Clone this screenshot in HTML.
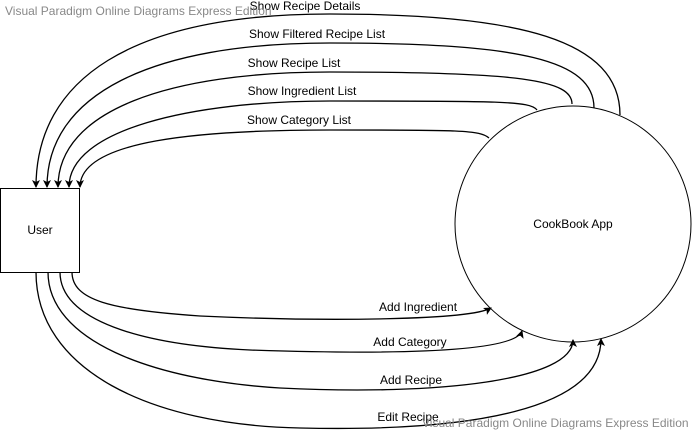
<!DOCTYPE html>
<html><head><meta charset="utf-8"><style>
html,body{margin:0;padding:0;background:#fff;}
svg{display:block;font-family:"Liberation Sans",Arial,sans-serif;}
</style></head><body>
<svg width="693" height="434" viewBox="0 0 693 434" xmlns="http://www.w3.org/2000/svg">
<defs>
<marker id="a" markerWidth="8" markerHeight="8" refX="7" refY="4" orient="auto" markerUnits="userSpaceOnUse">
<path d="M0,0 L8,4 L0,8 L2,4 Z" fill="#000"/>
</marker>
</defs>
<rect x="0.5" y="188.5" width="79" height="84" fill="#fff" stroke="#000"/>
<text x="40" y="234" font-size="12" text-anchor="middle">User</text>
<circle cx="573" cy="224" r="118" fill="#fff" stroke="#000"/>
<text x="573" y="228" font-size="12" text-anchor="middle">CookBook App</text>
<g fill="none" stroke="#000" stroke-width="1.3" marker-end="url(#a)">
<path d="M620,115 C620,40 520,14 330,14 C130,14 36,80 36,187"/>
<path d="M594,108 C594,60 520,43 330,43 C150,43 47,95 47,187"/>
<path d="M572,104 C572,80 520,72 330,72 C170,72 58,110 58,187"/>
<path d="M537,110 C530,101 500,101 330,101 C190,101 69,130 69,187"/>
<path d="M489,138 C480,130 460,130 330,130 C200,130 80,140 80,187"/>
<path d="M72,272 C72,300 110,310 200,316 C330,322 470,320 491,308"/>
<path d="M60,272 C60,320 140,345 250,350 C400,355 515,352 522,331"/>
<path d="M48,272 C48,340 150,380 280,388 C440,396 573,380 573,340"/>
<path d="M36,272 C36,370 150,425 300,428 C470,432 601,410 601,339"/>
</g>
<g font-size="12" fill="#000" text-anchor="middle">
<rect x="248" y="-2" width="114" height="14" fill="#fff"/>
<text x="305" y="10">Show Recipe Details</text>
<text x="317" y="38">Show Filtered Recipe List</text>
<text x="294" y="67">Show Recipe List</text>
<text x="302" y="95">Show Ingredient List</text>
<text x="299" y="124">Show Category List</text>
<text x="418" y="311">Add Ingredient</text>
<text x="410" y="346">Add Category</text>
<text x="411" y="384">Add Recipe</text>
<text x="408" y="421">Edit Recipe</text>
</g>
<g font-size="12" fill="#888">
<text x="5" y="15">Visual Paradigm Online Diagrams Express Edition</text>
<text x="422" y="427">Visual Paradigm Online Diagrams Express Edition</text>
</g>
</svg>
</body></html>
